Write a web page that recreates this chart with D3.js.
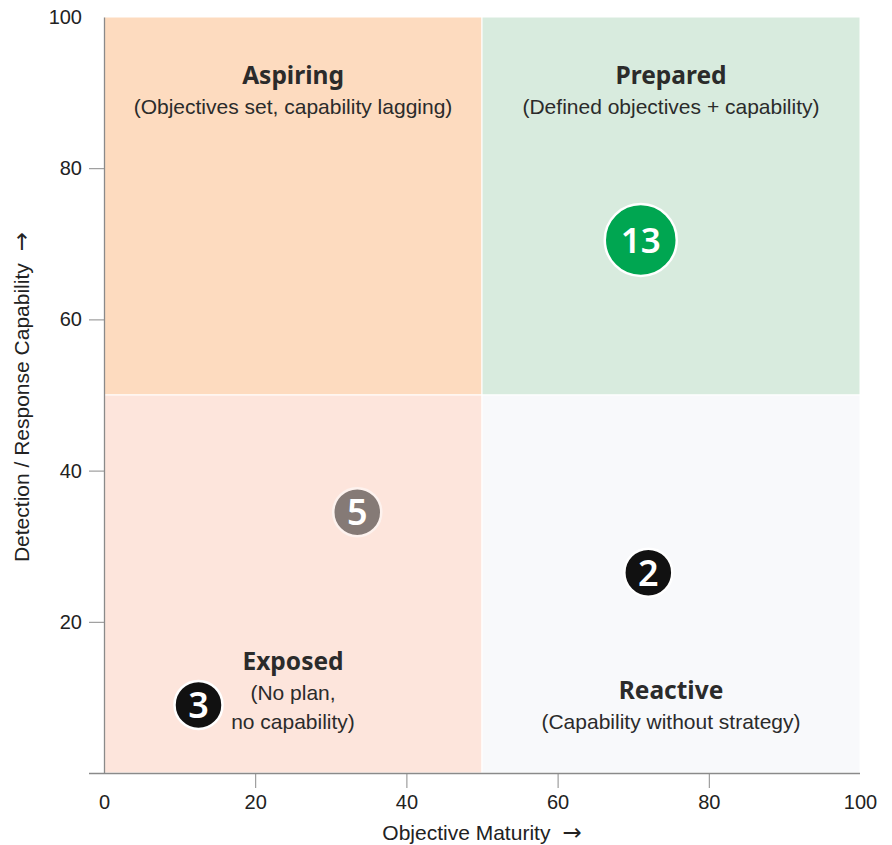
<!DOCTYPE html>
<html>
<head>
<meta charset="utf-8">
<script src="https://cdn.jsdelivr.net/npm/d3@7"></script>
<style>
  body { margin: 0; background: #fff; }
  svg { display: block; }
</style>
</head>
<body>
<svg id="chart" width="892" height="845"></svg>
<script>
// Quadrants of the maturity matrix
const quadNames = ["Aspiring", "Prepared", "Exposed", "Reactive"];
const quadSubs = [
  ["(Objectives set, capability lagging)"],
  ["(Defined objectives + capability)"],
  ["(No plan,", "no capability)"],
  ["(Capability without strategy)"]
];
const quadX0 = [0, 50, 0, 50];
const quadY0 = [50, 50, 0, 0];
const quadColors = ["#fddbbf", "#d8ebde", "#fde5dc", "#f8f9fb"];

// Organisation counts positioned by maturity / capability
const pointCounts = [13, 5, 2, 3];
const pointX = [71, 33.5, 72, 12.5];
const pointY = [70.5, 34.5, 26.5, 9];
const pointColors = ["#00a651", "#857a76", "#111111", "#111111"];

const xTicks = [0, 20, 40, 60, 80, 100];
const yTicks = [20, 40, 60, 80, 100];

const svg = d3.select("#chart");
const plotLeft = 104, plotRight = 860, plotTop = 17, plotBottom = 773;

const x = d3.scaleLinear().domain([0, 100]).range([plotLeft, plotRight]);
const y = d3.scaleLinear().domain([0, 100]).range([plotBottom, plotTop]);
const r = d3.scaleThreshold().domain([10]).range([24, 36]);

// quadrant backgrounds
svg.append("g").selectAll("rect")
  .data(quadNames)
  .join("rect")
  .attr("x", (d, i) => x(quadX0[i]))
  .attr("y", (d, i) => y(quadY0[i] + 50))
  .attr("width", x(50) - x(0))
  .attr("height", y(0) - y(50))
  .attr("fill", (d, i) => quadColors[i])
  .attr("stroke", "#fff")
  .attr("stroke-width", 1);

// quadrant titles and descriptions
const titleFont = "'Noto Sans', 'Open Sans', sans-serif";
const bodyFont = "'Liberation Sans', Arial, sans-serif";
const labelTopY = [91.1, 91.1, 13.6, 9.8];
quadNames.forEach((name, i) => {
  const cx = x(quadX0[i] + 25);
  const ty = y(labelTopY[i]);
  svg.append("text")
    .attr("x", cx).attr("y", ty)
    .attr("text-anchor", "middle")
    .attr("font-family", titleFont)
    .attr("font-weight", 700)
    .attr("font-size", 24.5)
    .attr("fill", "#2b2b2b")
    .text(name);
  quadSubs[i].forEach((s, j) => {
    svg.append("text")
      .attr("x", cx).attr("y", ty + 30 + j * 29)
      .attr("text-anchor", "middle")
      .attr("font-family", bodyFont)
      .attr("font-size", 21)
      .attr("fill", "#2b2b2b")
      .text(s);
  });
});

// axes
const axisColor = "#8a8a8a";
const xAxis = svg.append("g")
  .attr("transform", `translate(0,${plotBottom})`)
  .call(d3.axisBottom(x).tickValues(xTicks).tickSize(15).tickSizeOuter(0).tickFormat(d3.format("d")));
const yAxis = svg.append("g")
  .attr("transform", `translate(${plotLeft},0)`)
  .call(d3.axisLeft(y).tickValues(yTicks).tickSize(15).tickSizeOuter(0).tickFormat(d3.format("d")));

[xAxis, yAxis].forEach(g => {
  g.select(".domain").attr("stroke", axisColor).attr("stroke-width", 1.3);
  g.selectAll(".tick line").attr("stroke", axisColor).attr("stroke-width", 1);
  g.selectAll(".tick text")
    .attr("font-family", bodyFont)
    .attr("font-size", 20)
    .attr("fill", "#222");
});
// x-axis baseline continues left under the y-axis ticks
xAxis.select(".domain").attr("d", `M${plotLeft - 15},0.5H${plotRight}`);
xAxis.selectAll(".tick").filter(d => d === 0 || d === 100).select("line").remove();
xAxis.selectAll(".tick text").attr("y", 22);
yAxis.selectAll(".tick").filter(d => d === 100).select("line").remove();
yAxis.selectAll(".tick text").attr("x", -22);

// axis titles
const xTitle = svg.append("text")
  .attr("x", x(50)).attr("y", 840)
  .attr("text-anchor", "middle")
  .attr("font-family", bodyFont)
  .attr("font-size", 21)
  .attr("fill", "#222");
xTitle.append("tspan").text("Objective Maturity");
xTitle.append("tspan").attr("dx", 12)
  .attr("font-family", "'DejaVu Sans', sans-serif").attr("font-size", 23).text("→");

const yTitle = svg.append("text")
  .attr("transform", `translate(29,${y(50) + 2}) rotate(-90)`)
  .attr("text-anchor", "middle")
  .attr("font-family", bodyFont)
  .attr("font-size", 21)
  .attr("fill", "#222");
yTitle.append("tspan").text("Detection / Response Capability");
yTitle.append("tspan").attr("dx", 12)
  .attr("font-family", "'DejaVu Sans', sans-serif").attr("font-size", 23).text("→");

// count bubbles
const pts = svg.append("g").selectAll("g")
  .data(pointCounts)
  .join("g")
  .attr("transform", (d, i) => `translate(${x(pointX[i])},${y(pointY[i])})`);
pts.append("circle")
  .attr("r", d => r(d))
  .attr("fill", (d, i) => pointColors[i])
  .attr("stroke", (d, i) => i === 1 ? "#fdf2ee" : "#fff")
  .attr("stroke-width", 2.5);
pts.append("text")
  .attr("text-anchor", "middle")
  .attr("dy", "0.36em")
  .attr("font-family", titleFont)
  .attr("font-weight", 600)
  .attr("font-size", d => d >= 10 ? 35 : 36)
  .attr("fill", "#fff")
  .text(d => d);
</script>
</body>
</html>
